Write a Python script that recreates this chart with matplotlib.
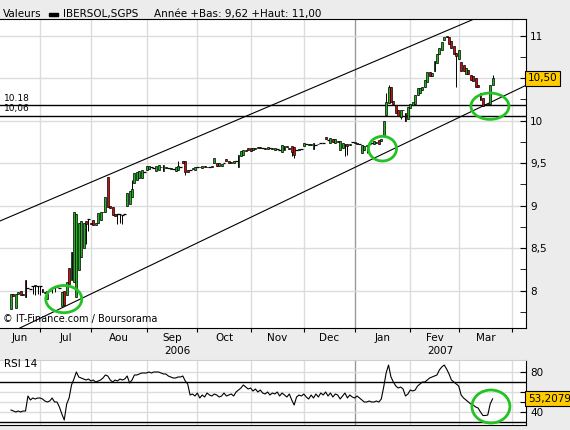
import numpy as np, pandas as pd
import matplotlib; matplotlib.use("Agg")
import matplotlib.pyplot as plt
from matplotlib.patches import Ellipse, Rectangle
from matplotlib.ticker import FuncFormatter, MultipleLocator

# daily candles, IBERSOL SGPS, 15 Jun 2006 -> 21 Mar 2007
opens = [7.78, 7.96, 7.80, 7.96, 8.00, 7.95, 8.12, 8.03, 8.02, 8.06,
         8.07, 8.06, 8.05, 8.02, 7.97, 7.90, 7.99, 8.03, 8.04, 8.04,
         8.03, 7.82, 8.00, 7.95, 8.27, 8.12, 8.10, 7.92, 8.24, 8.40,
         8.50, 8.82, 8.84, 8.80, 8.83, 8.77, 8.79, 8.83, 8.92, 8.92,
         9.34, 9.00, 8.98, 8.90, 8.90, 8.90, 8.89, 8.90, 9.00, 9.02,
         9.10, 9.27, 9.30, 9.33, 9.32, 9.40, 9.42, 9.43, 9.45, 9.44,
         9.41, 9.42, 9.45, 9.41, 9.45, 9.44, 9.43, 9.43, 9.41, 9.42,
         9.46, 9.52, 9.52, 9.42, 9.42, 9.43, 9.42, 9.46, 9.45, 9.44,
         9.47, 9.46, 9.45, 9.46, 9.50, 9.50, 9.47, 9.47, 9.50, 9.55,
         9.53, 9.50, 9.50, 9.52, 9.45, 9.58, 9.60, 9.64, 9.68, 9.68,
         9.66, 9.67, 9.68, 9.69, 9.68, 9.68, 9.67, 9.68, 9.68, 9.66,
         9.67, 9.66, 9.63, 9.66, 9.70, 9.68, 9.70, 9.69, 9.65, 9.66,
         9.67, 9.70, 9.72, 9.71, 9.71, 9.67, 9.71, 9.72, 9.74, 9.74,
         9.81, 9.77, 9.74, 9.78, 9.74, 9.76, 9.65, 9.68, 9.73, 9.72,
         9.71, 9.75, 9.74, 9.74, 9.72, 9.62, 9.65, 9.70, 9.73, 9.74,
         9.73, 9.74, 9.77, 9.76, 9.83, 10.07, 10.21, 10.40, 10.23, 10.18,
         10.12, 10.04, 10.13, 10.09, 10.02, 10.15, 10.18, 10.20, 10.30, 10.33,
         10.36, 10.40, 10.45, 10.57, 10.52, 10.58, 10.68, 10.79, 10.83, 10.95,
         11.00, 10.99, 10.94, 10.88, 10.80, 10.72, 10.69, 10.66, 10.55, 10.60,
         10.54, 10.53, 10.50, 10.42, 10.33, 10.27, 10.20, 10.18, 10.20, 10.42]
closes = [7.96, 7.94, 7.96, 7.98, 7.95, 7.96, 7.93, 8.03, 8.02, 8.06,
          8.06, 8.06, 8.05, 7.98, 7.98, 7.99, 8.00, 8.03, 8.04, 8.04,
          8.03, 7.98, 7.83, 8.10, 8.08, 8.45, 8.92, 8.90, 8.80, 8.82,
          8.80, 8.78, 8.84, 8.78, 8.77, 8.79, 8.91, 8.92, 8.93, 9.10,
          8.98, 8.97, 8.89, 8.88, 8.90, 8.90, 8.89, 8.90, 9.15, 9.17,
          9.20, 9.38, 9.40, 9.41, 9.42, 9.40, 9.47, 9.47, 9.45, 9.44,
          9.47, 9.48, 9.46, 9.48, 9.44, 9.44, 9.44, 9.43, 9.46, 9.47,
          9.46, 9.50, 9.40, 9.40, 9.42, 9.44, 9.46, 9.46, 9.46, 9.47,
          9.46, 9.45, 9.45, 9.47, 9.56, 9.47, 9.50, 9.49, 9.50, 9.52,
          9.50, 9.51, 9.52, 9.52, 9.60, 9.64, 9.65, 9.65, 9.66, 9.64,
          9.68, 9.68, 9.69, 9.68, 9.68, 9.67, 9.69, 9.68, 9.67, 9.68,
          9.67, 9.66, 9.71, 9.70, 9.69, 9.67, 9.63, 9.60, 9.65, 9.67,
          9.67, 9.74, 9.72, 9.73, 9.73, 9.74, 9.71, 9.73, 9.74, 9.74,
          9.78, 9.77, 9.79, 9.75, 9.78, 9.75, 9.76, 9.74, 9.72, 9.70,
          9.72, 9.75, 9.75, 9.73, 9.72, 9.71, 9.70, 9.71, 9.73, 9.74,
          9.76, 9.75, 9.72, 9.78, 10.00, 10.22, 10.40, 10.22, 10.20, 10.09,
          10.06, 10.12, 10.12, 10.00, 10.16, 10.20, 10.22, 10.30, 10.38, 10.38,
          10.40, 10.48, 10.57, 10.52, 10.56, 10.70, 10.79, 10.85, 10.92, 10.98,
          10.98, 10.90, 10.85, 10.78, 10.76, 10.83, 10.58, 10.58, 10.62, 10.55,
          10.48, 10.47, 10.40, 10.40, 10.24, 10.17, 10.18, 10.19, 10.42, 10.50]
wick_lo = {9: 7.96, 10: 7.95, 11: 7.96, 12: 7.95, 17: 7.97, 18: 7.98, 31: 8.55,
           32: 8.70, 44: 8.78, 45: 8.80, 46: 8.78, 72: 9.36, 116: 9.58, 117: 9.56,
           138: 9.58, 139: 9.60, 147: 9.62, 161: 10.02, 163: 9.99, 184: 10.40}
wick_hi = {50: 9.30, 69: 9.52, 155: 10.33, 156: 10.42, 199: 10.54}

rsi = [42, 41, 40, 41, 40, 41, 41, 56, 52, 54,
       53, 54, 54, 53, 51, 50, 51, 54, 50, 50,
       45, 38, 32, 48, 54, 67, 73, 80, 75, 74,
       73, 72, 73, 71, 72, 70, 71, 72, 74, 77,
       76, 72, 70, 72, 71, 73, 72, 73, 76, 69,
       72, 77, 77, 78, 79, 79, 79, 80, 79, 80,
       80, 80, 79, 78, 78, 76, 75, 74, 74, 75,
       75, 76, 71, 68, 57, 58, 56, 59, 54, 57,
       55, 59, 57, 56, 58, 57, 55, 56, 59, 56,
       57, 58, 56, 60, 62, 64, 67, 65, 63, 64,
       61, 63, 60, 62, 59, 58, 60, 57, 59, 58,
       60, 56, 59, 57, 55, 58, 52, 47, 55, 57,
       56, 58, 55, 53, 57, 54, 58, 55, 59, 57,
       60, 56, 59, 55, 58, 57, 53, 56, 59, 54,
       57, 55, 54, 56, 54, 52, 50, 50, 51, 50,
       50, 51, 50, 53, 65, 79, 87, 75, 70, 66,
       64, 65, 63, 56, 58, 62, 61, 62, 66, 68,
       70, 70, 72, 74, 75, 76, 77, 82, 85, 87,
       83, 78, 72, 70, 68, 66, 57, 54, 52, 50,
       48, 47, 45, 44, 40, 36.5, 36.5, 37, 48, 53.2079]

month_names = ["Jun", "Jul", "Aou", "Sep", "Oct", "Nov", "Dec", "Jan", "Fev", "Mar"]
year_names = ["2006", "2007"]
support_levels = [10.18, 10.06]
support_labels = ["10.18", "10,06"]
upper_channel = [(-4.5, 8.82), (191.7, 11.20)]
lower_channel = [(29.3, 7.91), (212.4, 10.41)]
circles_price = [(21.8, 7.90, 14.9, 0.32), (153.5, 9.67, 11.6, 0.29), (197.9, 10.17, 15.7, 0.31)]
circle_rsi = (198.3, 45.5, 15.7, 33)
rsi_ticks = [40, 50, 60, 80]
rsi_ticklabels = ["40", "", "", "80"]   # 50 and 60 sit under the value box

GREEN, RED, CIRCLE = "#1db41d", "#cc1010", "#22c322"
BG, GRID = "#ececec", "#dcdcdc"
plt.rcParams["font.family"] = ["DejaVu Sans"]
plt.rcParams["font.size"] = 7

def comma(v, p=None):
    return f"{v:g}".replace(".", ",")
# 10,5 label is hidden under the last-price box
price_fmt = FuncFormatter(lambda v, p: "" if abs(v - 10.5) < 1e-6 else comma(v))

XMIN, XMAX = -4.55, 212.8
x = np.arange(len(closes))
dates = pd.bdate_range("2006-06-15", periods=240)
starts = [i for i in range(1, len(dates)) if dates[i].month != dates[i - 1].month and i < XMAX]
jan = [i for i in starts if dates[i].month == 1][0]

fig = plt.figure(figsize=(5.7, 4.3), dpi=100, facecolor=BG)
ax = fig.add_axes([0.0, 0.2372, 0.9228, 0.7186])
ax2 = fig.add_axes([0.0, 0.0116, 0.9228, 0.1512], sharex=ax)

# --- price panel
o, c = np.array(opens), np.array(closes)
lo, hi = np.minimum(o, c), np.maximum(o, c)
for i, v in wick_lo.items(): lo[i] = v
for i, v in wick_hi.items(): hi[i] = v
ax.vlines(x, lo, hi, color="black", lw=0.7, zorder=3)
up = c > o + 0.004; dn = c < o - 0.004; flat = ~(up | dn)
ax.bar(x[up], (c - o)[up], bottom=o[up], width=0.8, color=GREEN, edgecolor="black", lw=0.5, zorder=4)
ax.bar(x[dn], (o - c)[dn], bottom=c[dn], width=0.8, color=RED, edgecolor="black", lw=0.5, zorder=4)
ax.hlines(c[flat], x[flat] - 0.6, x[flat] + 0.6, color="black", lw=0.9, zorder=4)

ax.axline(*upper_channel, color="black", lw=0.8, zorder=2)
ax.axline(*lower_channel, color="black", lw=0.8, zorder=2)
for lvl, lab in zip(support_levels, support_labels):
    ax.axhline(lvl, color="black", lw=1.0, zorder=2)
    ax.text(XMIN + 1.5, lvl + 0.03, lab, fontsize=6.5, va="bottom", ha="left", zorder=5)
for cx, cy, w, h in circles_price:
    ax.add_patch(Ellipse((cx, cy), w, h, fill=False, ec=CIRCLE, lw=2.0, zorder=6))

ax.set_xlim(XMIN, XMAX); ax.set_ylim(7.56, 11.196)
ax.set_facecolor("white")
ax.yaxis.set_major_locator(MultipleLocator(0.5))
ax.yaxis.set_minor_locator(MultipleLocator(0.25))
ax.yaxis.set_major_formatter(price_fmt)
ax.yaxis.tick_right()
ax.tick_params(axis="y", which="both", direction="in", length=4, pad=3, labelsize=7.5)
ax.grid(axis="y", which="major", color=GRID, lw=1, zorder=0)
for s in starts:
    for a in (ax, ax2):
        a.axvline(s, color="#9a9a9a" if s == jan else GRID, lw=1, zorder=0)
ax.set_xticks(starts)
ax.tick_params(axis="x", direction="out", length=3, labelbottom=False)
ax.spines["left"].set_visible(False)
ax.text(XMIN + 1.2, 0.012, "\u00a9 IT-Finance.com / Boursorama", transform=ax.get_xaxis_transform(),
        fontsize=7, va="bottom", ha="left", zorder=7)

# month and year labels under the price panel
bounds = [XMIN] + starts + [XMAX]
tr = ax.get_xaxis_transform()
for (a, b), name in zip(zip(bounds[:-1], bounds[1:]), month_names):
    ax.text((a + b) / 2, -0.032, name, transform=tr, ha="center", va="center", fontsize=7.5)
for (a, b), name in zip([(XMIN, jan), (jan, XMAX)], year_names):
    ax.text((a + b) / 2, -0.074, name, transform=tr, ha="center", va="center", fontsize=7.5)

ax.text(1.004, closes[-1], f"{closes[-1]:.2f}".replace(".", ","), transform=ax.get_yaxis_transform(),
        ha="left", va="center", fontsize=7.5, zorder=8, clip_on=False,
        bbox=dict(boxstyle="square,pad=0.25", fc="#ffcc00", ec="black", lw=0.8))

# --- RSI panel
ax2.plot(x, rsi, color="black", lw=0.8, zorder=3)
for lvl in (70, 30):
    ax2.axhline(lvl, color="black", lw=1.0, zorder=2)
ax2.add_patch(Ellipse(circle_rsi[:2], circle_rsi[2], circle_rsi[3], fill=False, ec=CIRCLE, lw=2.0, zorder=6))
ax2.set_ylim(27, 92)
ax2.set_facecolor("white")
ax2.set_yticks(rsi_ticks)
ax2.set_yticklabels(rsi_ticklabels)
ax2.yaxis.tick_right()
ax2.tick_params(axis="y", direction="in", length=4, pad=3, labelsize=7.5)
ax2.tick_params(axis="x", length=0, labelbottom=False)
ax2.grid(axis="y", color=GRID, lw=1, zorder=0)
ax2.spines["left"].set_visible(False)
ax2.spines["top"].set_color("#cfcfcf")
ax2.text(XMIN + 1.5, 88, "RSI 14", fontsize=7.5, va="center", ha="left")
ax2.text(1.004, rsi[-1], f"{rsi[-1]:.4f}".replace(".", ","), transform=ax2.get_yaxis_transform(),
         ha="left", va="center", fontsize=7.5, zorder=8, clip_on=False,
         bbox=dict(boxstyle="square,pad=0.25", fc="#ffcc00", ec="black", lw=0.8))

# --- title row
ty = 1 - 14 / 430
fig.text(3 / 570, ty, "Valeurs", va="center", ha="left", fontsize=7.5)
fig.patches.append(Rectangle((49 / 570, 1 - 15.7 / 430), 9 / 570, 3 / 430,
                             transform=fig.transFigure, color="black"))
fig.text(63 / 570, ty, "IBERSOL,SGPS", va="center", ha="left", fontsize=7.5)
fig.text(154 / 570, ty, "Année +Bas: 9,62 +Haut: 11,00", va="center", ha="left", fontsize=7.5)

fig.savefig("out.png", dpi=100, facecolor=BG)
